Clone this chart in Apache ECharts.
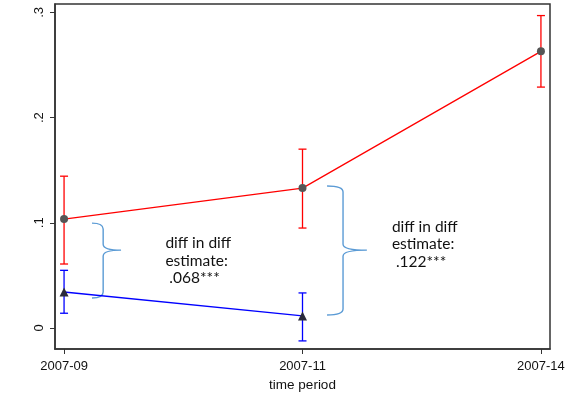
<!DOCTYPE html>
<html>
<head>
<meta charset="utf-8">
<script src="https://cdn.jsdelivr.net/npm/echarts@6/dist/echarts.min.js"></script>
<style>
  html, body { margin: 0; padding: 0; background: #fff; }
  #chart { width: 578px; height: 393px; }
</style>
</head>
<body>
<div id="chart"></div>
<script>
// Time periods on the x axis (positions 0, 1, 2)
const periods = ['2007-09', '2007-11', '2007-14'];
const yTicks = [0, 0.1, 0.2, 0.3];

// Treatment group (red): point estimate with 95% CI
const treatEst = [0.1035, 0.133, 0.263];
const treatLo  = [0.0608, 0.095, 0.229];
const treatHi  = [0.1443, 0.170, 0.297];

// Control group (blue): point estimate with 95% CI
const ctrlEst = [0.0342, 0.0114];
const ctrlLo  = [0.0140, -0.0123];
const ctrlHi  = [0.0548, 0.0333];

// Braces marking the diff-in-diff gaps: [x left, x spine, x tip, y top, y tip, y bottom]
const braces = [
  [0.117, 0.164, 0.239, 0.0997, 0.074, 0.0285],
  [1.103, 1.170, 1.270, 0.135, 0.074, 0.0123]
];
// Annotation text: [x, y, text]
const notes = [
  [0.425, 0.0888, 'diff in diff\nestimate:\n .068***'],
  [1.375, 0.1045, 'diff in diff\nestimate:\n .122***']
];

const chart = echarts.init(document.getElementById('chart'));

function errorBarItem(color) {
  return function (params, api) {
    const top = api.coord([api.value(0), api.value(2)]);
    const bot = api.coord([api.value(0), api.value(1)]);
    const hw = 4;
    const style = { stroke: color, lineWidth: 1.3, fill: null };
    return {
      type: 'group',
      children: [
        { type: 'line', shape: { x1: top[0], y1: top[1], x2: bot[0], y2: bot[1] }, style },
        { type: 'line', shape: { x1: top[0] - hw, y1: top[1], x2: top[0] + hw, y2: top[1] }, style },
        { type: 'line', shape: { x1: bot[0] - hw, y1: bot[1], x2: bot[0] + hw, y2: bot[1] }, style }
      ]
    };
  };
}

function braceItem(params, api) {
  const xl = api.value(0), xs = api.value(1), xt = api.value(2);
  const yt = api.value(3), ym = api.value(4), yb = api.value(5);
  const L = api.coord([xl, yt])[0], S = api.coord([xs, yt])[0], T = api.coord([xt, yt])[0];
  const Y1 = api.coord([xl, yt])[1], YM = api.coord([xl, ym])[1], Y2 = api.coord([xl, yb])[1];
  const r = 6;
  const d = [
    'M', L, Y1,
    'Q', S, Y1, S, Y1 + r,
    'L', S, YM - r,
    'Q', S, YM, T, YM,
    'Q', S, YM, S, YM + r,
    'L', S, Y2 - r,
    'Q', S, Y2, L, Y2
  ].join(' ');
  return {
    type: 'path',
    shape: { pathData: d },
    style: { stroke: '#5b9bd5', lineWidth: 1.4, fill: null }
  };
}

function noteItem(params, api) {
  const p = api.coord([api.value(0), api.value(1)]);
  return {
    type: 'text',
    x: p[0], y: p[1],
    style: {
      text: notes[params.dataIndex][2],
      fill: '#111',
      font: '15.5px Lato, sans-serif',
      lineHeight: 17.5,
      align: 'left',
      verticalAlign: 'top'
    }
  };
}

const xIdx = periods.map((_, i) => i);

chart.setOption({
  animation: false,
  backgroundColor: '#fff',
  grid: {
    left: 55, top: 4, right: 28, bottom: 44,
    outerBoundsMode: 'none', containLabel: false,
    show: true, borderColor: '#333', borderWidth: 1.5, backgroundColor: '#fff'
  },
  xAxis: {
    type: 'value', min: -0.038, max: 2.038,
    name: 'time period', nameLocation: 'middle', nameGap: 28,
    nameTextStyle: { color: '#111', fontFamily: 'Liberation Sans', fontSize: 13.5 },
    axisLine: { show: true, onZero: false, lineStyle: { color: '#333', width: 1.5 } },
    axisTick: { show: true, length: 5, customValues: xIdx, lineStyle: { color: '#333' } },
    axisLabel: {
      customValues: xIdx, margin: 11, color: '#111',
      fontFamily: 'Liberation Sans', fontSize: 13,
      formatter: v => periods[Math.round(v)]
    },
    splitLine: { show: false }
  },
  yAxis: {
    type: 'value', min: -0.02, max: 0.308,
    axisLine: { show: true, onZero: false, lineStyle: { color: '#333', width: 1.5 } },
    axisTick: { show: true, length: 5, customValues: yTicks, lineStyle: { color: '#333' } },
    axisLabel: {
      customValues: yTicks, rotate: 90, margin: 9, color: '#111',
      fontFamily: 'Liberation Sans', fontSize: 13,
      formatter: v => v === 0 ? '0' : String(Math.round(v * 10) / 10).replace(/^0/, '')
    },
    splitLine: { show: false }
  },
  series: [
    {
      type: 'custom', name: 'treatCI',
      renderItem: errorBarItem('#ff0000'),
      data: treatEst.map((_, i) => [i, treatLo[i], treatHi[i]]),
      encode: { x: 0, y: [1, 2] }, z: 2
    },
    {
      type: 'custom', name: 'ctrlCI',
      renderItem: errorBarItem('#0000ff'),
      data: ctrlEst.map((_, i) => [i, ctrlLo[i], ctrlHi[i]]),
      encode: { x: 0, y: [1, 2] }, z: 2
    },
    {
      type: 'line', name: 'treat',
      data: treatEst.map((v, i) => [i, v]),
      lineStyle: { color: '#ff0000', width: 1.3 },
      symbol: 'circle', symbolSize: 8,
      itemStyle: { color: '#555555' }, z: 3
    },
    {
      type: 'line', name: 'control',
      data: ctrlEst.map((v, i) => [i, v]),
      lineStyle: { color: '#0000ff', width: 1.3 },
      symbol: 'triangle', symbolSize: 9,
      itemStyle: { color: '#2a2a3a' }, z: 3
    },
    {
      type: 'custom', name: 'braces',
      renderItem: braceItem,
      data: braces,
      encode: { x: [0, 1, 2], y: [3, 4, 5] }, z: 1
    },
    {
      type: 'custom', name: 'notes',
      renderItem: noteItem,
      data: notes.map(n => [n[0], n[1]]),
      encode: { x: 0, y: 1 }, z: 4
    }
  ]
});
</script>
</body>
</html>
